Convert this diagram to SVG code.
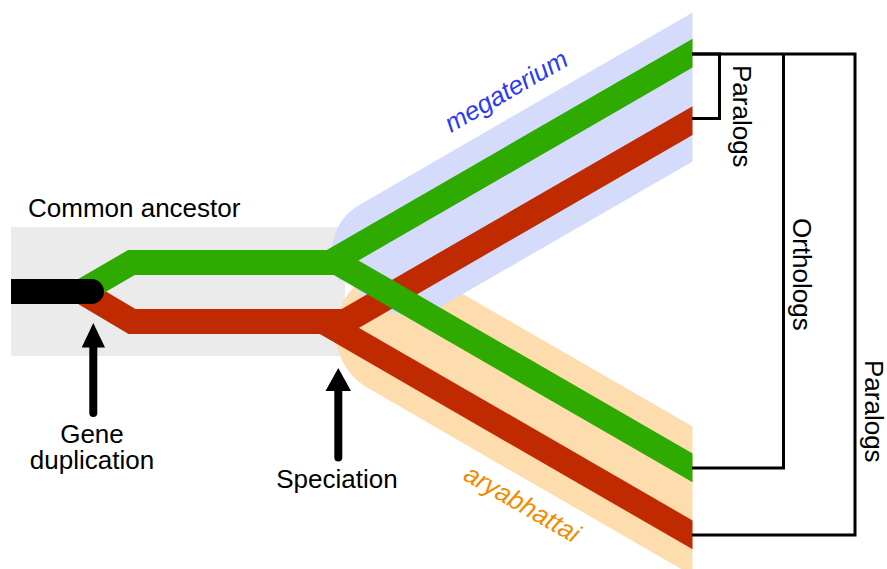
<svg xmlns="http://www.w3.org/2000/svg" width="887" height="569" viewBox="0 0 887 569">
  <style>
    .lbl { font-family: "Liberation Sans", Arial, sans-serif; font-size: 26px; fill: #000; }
    .sp { font-family: "Liberation Sans", Arial, sans-serif; font-size: 26px; font-style: italic; }
    .gene { fill: none; stroke-width: 25; stroke-linejoin: miter; stroke-linecap: butt; }
    .green { stroke: #2eaa00; }
    .red { stroke: #c02a00; }
    .bracket { fill: none; stroke: #000; stroke-width: 3; stroke-linejoin: miter; }
    .arrow { stroke: #000; stroke-width: 8; stroke-linecap: round; fill: none; }
  </style>
  <defs>
    <clipPath id="cut" clipPathUnits="userSpaceOnUse">
      <rect x="0" y="0" width="692.5" height="569"/>
    </clipPath>
  </defs>

  <!-- ancestral lineage -->
  <g id="ancestor">
    <rect x="11" y="227" width="334" height="129" fill="#ebebeb"/>
    <text class="lbl" x="28" y="217">Common ancestor</text>
  </g>

  <g clip-path="url(#cut)">
    <!-- species lineages: bands along ±30°, rounded at the speciation end -->
    <g id="aryabhattai">
      <g transform="translate(692,500.75) rotate(30)">
        <rect x="-401.5" y="-64.5" width="520" height="129" rx="64.5" fill="#fddcad"/>
      </g>
    </g>
    <g id="megaterium">
      <g transform="translate(692,87.25) rotate(-30)">
        <path d="M150,-64.5 H-347 A55,55 0 0 0 -402,-9.5 L-391.5,0 A64.5,64.5 0 0 0 -327,64.5 H150 Z" fill="#d5dcfb"/>
      </g>
    </g>

    <!-- gene copies -->
    <g id="connectors">
      <path class="gene red" d="M81.5,291.5 L132,321.5 L345,321.5 L720,104.8"/>
      <path class="gene red" d="M323,321.5 L720,550.7"/>
      <path class="gene green" d="M81.5,291.5 L131.5,262.5 L330,262.5 L720,37.3"/>
      <path class="gene green" d="M337,262.5 L720,483.7"/>
    </g>
  </g>

  <!-- single ancestral gene -->
  <g id="ancestral-gene">
    <path d="M11,279 H91.5 A12.5,12.5 0 0 1 91.5,304 H11 Z" fill="#000"/>
  </g>

  <text class="sp" fill="#2a3bf5" transform="translate(451,133) rotate(-30)">megaterium</text>
  <text class="sp" fill="#f08c00" transform="translate(462,479) rotate(30)">aryabhattai</text>

  <!-- event markers -->
  <g id="duplication">
    <line class="arrow" x1="93.3" y1="413" x2="93.3" y2="345"/>
    <polygon points="93.3,323 81.7,347.5 105,347.5" fill="#000"/>
    <text class="lbl" x="92" y="443" text-anchor="middle">Gene</text>
    <text class="lbl" x="92" y="469" text-anchor="middle">duplication</text>
  </g>
  <g id="speciation">
    <line class="arrow" x1="338.3" y1="457.5" x2="338.3" y2="388"/>
    <polygon points="338.3,368 325.5,391 351,391" fill="#000"/>
    <text class="lbl" x="337" y="488" text-anchor="middle">Speciation</text>
  </g>

  <!-- relationship brackets -->
  <g id="brackets">
    <path class="bracket" d="M692,54 H855 V535 H692"/>
    <path class="bracket" d="M692,54 H719.5 V118.5 H692"/>
    <path class="bracket" d="M783.5,54 V468 H692"/>
  </g>
  <g id="bracket-labels">
    <text class="lbl" transform="translate(732.5,65) rotate(90)">Paralogs</text>
    <text class="lbl" transform="translate(792.5,218) rotate(90)">Orthologs</text>
    <text class="lbl" transform="translate(864.5,360) rotate(90)">Paralogs</text>
  </g>
</svg>
